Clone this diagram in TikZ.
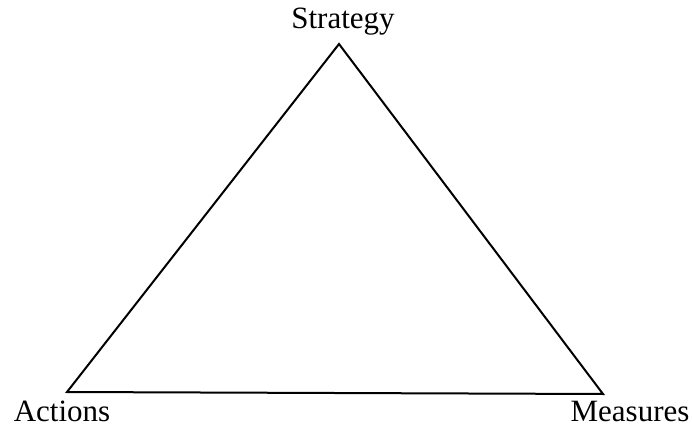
\documentclass[tikz,border=0pt]{standalone}
\usepackage{fontspec}
\setmainfont{Liberation Serif}
\begin{document}
\begin{tikzpicture}[x=1pt,y=-1pt,
  lbl/.style={anchor=base,inner sep=0pt,font=\fontsize{31}{34}\selectfont},
  edge/.style={line width=2pt,line join=miter}]
\useasboundingbox (0,0) rectangle (692,427);
\coordinate (S) at (339,44);
\coordinate (A) at (67,392);
\coordinate (M) at (603,394);
\draw[edge] (S) -- (A) -- (M) -- cycle;
\node[lbl] (ts) at (343,29) {Strategy};
\node[lbl] (ta) at (62,421) {Actions};
\node[lbl] (tm) at (630,421) {Measures};
\end{tikzpicture}
\end{document}
